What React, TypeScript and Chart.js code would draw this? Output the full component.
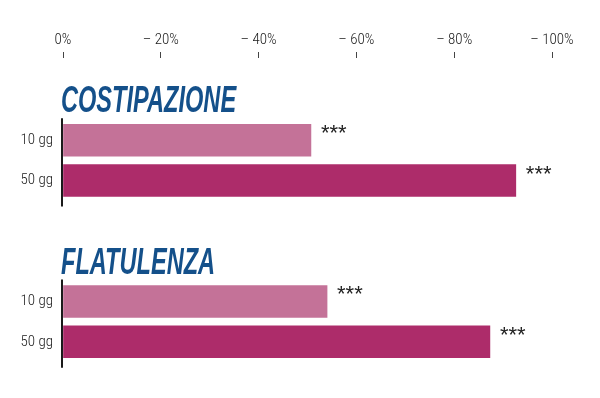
import React, { useEffect, useRef } from 'react';
import { Chart, registerables } from 'chart.js';

Chart.register(...registerables);

// ---- data ----
const groups = ['COSTIPAZIONE', 'FLATULENZA'];
const periods = ['10 gg', '50 gg'];
const values10 = [50.7, 54.0];
const values50 = [92.6, 87.3];
const marks10 = ['***', '***'];
const marks50 = ['***', '***'];
const xTickValues = [0, 20, 40, 60, 80, 100];

const ROWS_PER_GROUP = 4;
const titleRow = (g: number) => g * ROWS_PER_GROUP;
const barRow = (g: number, p: number) => g * ROWS_PER_GROUP + 1 + p;
const labelRows = groups.flatMap((_, g) => periods.map((__, p) => barRow(g, p)));

const NARROW = '"Roboto Condensed", "DejaVu Sans Condensed", sans-serif';

const decorPlugin = {
  id: 'decor',
  afterDatasetsDraw(chart: any) {
    const { ctx, scales } = chart;
    const xs = scales.x;
    const ys = scales.y;
    const x0 = xs.getPixelForValue(0);
    const m0 = chart.getDatasetMeta(0);
    const m1 = chart.getDatasetMeta(1);
    ctx.save();
    // per-group vertical axis line
    groups.forEach((_, g) => {
      const b0 = m0.data[g];
      const b1 = m1.data[g];
      if (!b0 || !b1) return;
      const top = b0.y - b0.height / 2 - 6;
      const bottom = b1.y + b1.height / 2 + 10;
      ctx.beginPath();
      ctx.strokeStyle = '#1a1a1a';
      ctx.lineWidth = 2;
      ctx.moveTo(x0 - 1, top);
      ctx.lineTo(x0 - 1, bottom);
      ctx.stroke();
    });
    // group titles
    groups.forEach((name, g) => {
      const y = ys.getPixelForValue(titleRow(g));
      ctx.save();
      ctx.translate(x0 - 2, y + 12.5);
      ctx.scale(0.655, 1);
      ctx.font = 'italic bold 36px "Liberation Sans", Arial, sans-serif';
      ctx.fillStyle = '#14508a';
      ctx.textBaseline = 'alphabetic';
      ctx.textAlign = 'left';
      ctx.fillText(name, 0, 0);
      ctx.restore();
    });
    // significance marks
    ctx.font = '22px "Liberation Sans", Arial, sans-serif';
    ctx.fillStyle = '#222';
    ctx.textBaseline = 'alphabetic';
    ctx.textAlign = 'left';
    [m0, m1].forEach((meta, d) => {
      const marks = d === 0 ? marks10 : marks50;
      meta.data.forEach((bar: any, i: number) => {
        ctx.fillText(marks[i], bar.x + 10, bar.y);
      });
    });
    ctx.restore();
  },
};

export default function App() {
  const ref = useRef<HTMLCanvasElement | null>(null);

  useEffect(() => {
    document.body.style.margin = '0';
    if (!ref.current) return;
    const chart = new Chart(ref.current, {
      type: 'bar',
      data: {
        datasets: [
          {
            label: periods[0],
            data: groups.map((_, g) => ({ x: values10[g], y: barRow(g, 0) })),
            backgroundColor: '#c47298',
            barThickness: 32,
            grouped: false,
          } as any,
          {
            label: periods[1],
            data: groups.map((_, g) => ({ x: values50[g], y: barRow(g, 1) })),
            backgroundColor: '#ad2c6a',
            barThickness: 32,
            grouped: false,
          } as any,
        ],
      },
      options: {
        indexAxis: 'y',
        animation: false,
        responsive: false,
        layout: { padding: { left: 0, right: 48, top: 0, bottom: 28 } },
        plugins: { legend: { display: false }, tooltip: { enabled: false } },
        scales: {
          x: {
            type: 'linear',
            position: 'top',
            min: 0,
            max: 100,
            afterBuildTicks: (s: any) => {
              s.ticks = xTickValues.map((v) => ({ value: v }));
            },
            afterFit: (s: any) => {
              s.height = 58;
            },
            ticks: {
              callback: (v: any) => (Number(v) === 0 ? '0%' : '\u2013 ' + v + '%'),
              font: { family: NARROW, size: 15, weight: '300' },
              color: '#1a1a1a',
              padding: 3,
              maxRotation: 0,
            },
            grid: { drawOnChartArea: false, drawTicks: true, tickLength: 6, color: '#444' },
            border: { display: false },
          },
          y: {
            type: 'linear',
            reverse: true,
            offset: false,
            min: -1.04,
            max: 6.7,
            afterBuildTicks: (s: any) => {
              s.ticks = labelRows.map((v) => ({ value: v }));
            },
            afterFit: (s: any) => {
              s.width = 63;
            },
            ticks: {
              callback: (v: any) => periods[(Number(v) - 1) % ROWS_PER_GROUP],
              font: { family: NARROW, size: 15, weight: '300' },
              color: '#1a1a1a',
              padding: 10,
            },
            grid: { display: false, drawTicks: false, offset: false },
            border: { display: false },
          },
        },
      } as any,
      plugins: [decorPlugin],
    });
    return () => chart.destroy();
  }, []);

  return (
    <div style={{ width: 600, height: 398, background: '#fff' }}>
      <canvas ref={ref} width={600} height={398} />
    </div>
  );
}
